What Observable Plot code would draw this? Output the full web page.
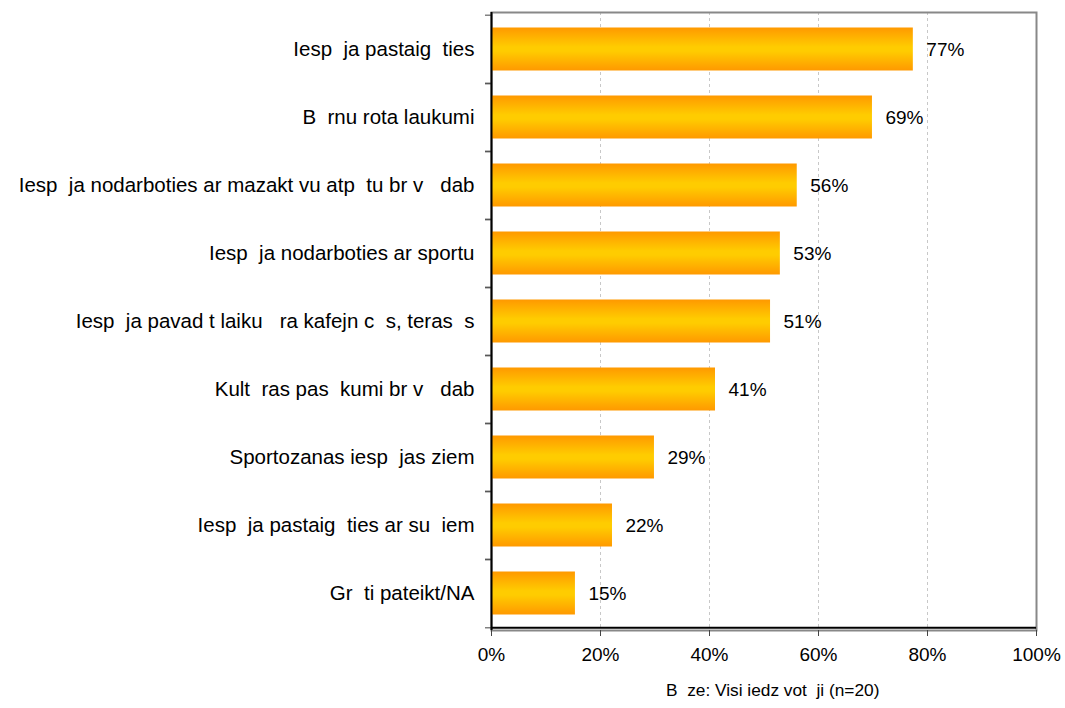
<!DOCTYPE html>
<html><head><meta charset="utf-8">
<script src="https://cdn.jsdelivr.net/npm/d3@7"></script>
<script src="https://cdn.jsdelivr.net/npm/@observablehq/plot@0.6"></script>
<style>
body{margin:0;background:#fff;font-family:"Liberation Sans",Arial,sans-serif;}
svg text{white-space:pre;}
#footer{position:absolute;left:666px;top:680px;font-size:17.3px;white-space:pre;color:#000;font-family:"Liberation Sans",Arial,sans-serif;}
</style></head><body>
<div id="chart"></div><div id="footer"></div>
<script>
const categories = [
  "Iesp  ja pastaig  ties",
  "B  rnu rota laukumi",
  "Iesp  ja nodarboties ar mazakt vu atp  tu br v   dab",
  "Iesp  ja nodarboties ar sportu",
  "Iesp  ja pavad t laiku   ra kafejn c  s, teras  s",
  "Kult  ras pas  kumi br v   dab",
  "Sportozanas iesp  jas ziem",
  "Iesp  ja pastaig  ties ar su  iem",
  "Gr  ti pateikt/NA"
];
const values = [77.4, 69.9, 56.1, 53.0, 51.2, 41.1, 29.9, 22.2, 15.4];
const valueLabels = ["77%", "69%", "56%", "53%", "51%", "41%", "29%", "22%", "15%"];
const xTicks = [0, 20, 40, 60, 80, 100];
const gridTicks = [20, 40, 60, 80];
const footerText = "B  ze: Visi iedz vot  ji (n=20)";

const data = categories.map((c, i) => ({category: c, value: values[i], label: valueLabels[i]}));

const W = 1065, H = 680, mT = 12, mB = 50, mL = 491, mR = 29;
const bw = (H - mT - mB) / categories.length;
const FS = 19;

const chart = Plot.plot({
  width: W, height: H,
  marginTop: mT, marginBottom: mB, marginLeft: mL, marginRight: mR,
  style: {fontFamily: "'Liberation Sans', Arial, sans-serif", fontSize: FS + "px", color: "#000", background: "#fff"},
  x: {domain: [0, 100]},
  y: {domain: categories, padding: 0},
  marks: [
    Plot.gridX(gridTicks, {stroke: "#c8c8c8", strokeOpacity: 1, strokeDasharray: "3,3"}),
    Plot.frame({stroke: "#888", strokeWidth: 2}),
    Plot.barX(data, {y: "category", x: "value", fill: "url(#barGrad)", insetTop: 12.5, insetBottom: 12.5}),
    Plot.text(data, {y: "category", x: "value", text: "label", dx: 13, textAnchor: "start", fontSize: FS, fill: "#000"}),
    Plot.axisY({tickSize: 0, tickPadding: 17, fontSize: 20.5, label: null}),
    Plot.axisY({tickSize: 6, tickFormat: () => "", label: null, dy: -bw / 2, stroke: "#444"}),
    Plot.axisY({tickSize: 6, tickFormat: () => "", label: null, dy: bw / 2, stroke: "#444"}),
    Plot.axisX({ticks: xTicks, tickFormat: d => d + "%", tickSize: 6, tickPadding: 11, fontSize: FS, label: null, stroke: "#444"}),
    Plot.ruleX([0], {stroke: "#000", strokeWidth: 2}),
    Plot.ruleY([0], {y: () => categories[categories.length - 1], dy: bw / 2, x1: 0, x2: 100, stroke: "#000", strokeWidth: 2})
  ]
});

const svg = d3.select(chart);
const defs = svg.insert("defs", ":first-child");
const grad = defs.append("linearGradient").attr("id", "barGrad").attr("x1", 0).attr("y1", 0).attr("x2", 0).attr("y2", 1);
grad.append("stop").attr("offset", "0%").attr("stop-color", "#ff9900");
grad.append("stop").attr("offset", "45%").attr("stop-color", "#ffcc00");
grad.append("stop").attr("offset", "55%").attr("stop-color", "#ffcc00");
grad.append("stop").attr("offset", "100%").attr("stop-color", "#ff9900");

document.getElementById("chart").appendChild(chart);
document.getElementById("footer").textContent = footerText;
</script>
</body></html>
